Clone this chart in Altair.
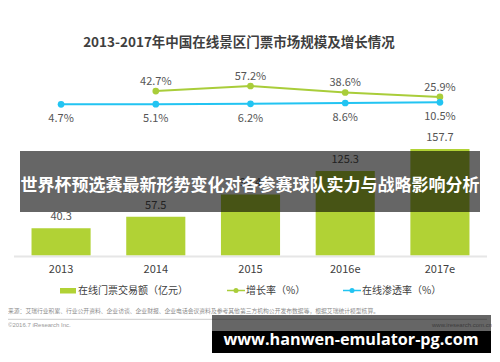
import altair as alt
import pandas as pd

years = ["2013", "2014", "2015", "2016e", "2017e"]
amount = [40.3, 57.5, 90.4, 125.3, 157.7]
growth = [None, 42.7, 57.2, 38.6, 25.9]
penetration = [4.7, 5.1, 6.2, 8.6, 10.5]

title_text = "2013-2017年中国在线景区门票市场规模及增长情况"
legend_labels = ["在线门票交易额（亿元）", "增长率（%）", "在线渗透率（%）"]
source_text = ("来源：艾瑞行业积累、行业公开资料、企业访谈、企业财报、企业电话会议资料及参考其他第三方"
               "机构公开发布数据等，根据艾瑞统计模型核算。")
copyright_text = "©2016.7 iResearch Inc."
site_text = "www.iresearch.com.cn"
banner_text = "世界杯预选赛最新形势变化对各参赛球队实力与战略影响分析"
url_text = "www.hanwen-emulator-pg.com"

BAR = "#b1d235"
GREEN = "#a9cd3a"
BLUE = "#22c4f2"
TXT = "#404040"
LBL = "#555555"
FONT = "Noto Sans CJK SC"

df = pd.DataFrame({"year": years, "amount": amount, "growth": growth, "pen": penetration})
df["amount_label"] = df["amount"].map(lambda v: f"{v:.1f}")
df["growth_label"] = df["growth"].map(lambda v: "" if pd.isna(v) else f"{v:.1f}%")
df["pen_label"] = df["pen"].map(lambda v: f"{v:.1f}%")

xs = alt.Scale(domain=years, range=[6, 479], paddingInner=0.376, paddingOuter=0.185)
ybar = alt.Scale(domain=[0, 160], range=[247.5, 139.5])
yrate = alt.Scale(domain=[0, 60], range=[98, 77])

X = alt.X("year:N", scale=xs, axis=None, sort=years)
base = alt.Chart(df)

bars = base.mark_bar(color=BAR).encode(x=X, y=alt.Y("amount:Q", scale=ybar, axis=None))
bar_lbl = base.mark_text(dy=-11, fontSize=11, color=LBL, font=FONT).encode(
    x=X, y=alt.Y("amount:Q", scale=ybar, axis=None), text="amount_label:N")
xlbl = base.mark_text(fontSize=11, color=TXT, font=FONT).encode(
    x=X, y=alt.value(262), text="year:N")

one = alt.Chart(pd.DataFrame({"a": [0]}))
axis_line = one.mark_rule(color="#e6e6e6", strokeWidth=2).encode(
    x=alt.value(6), x2=alt.value(479), y=alt.value(248.5))

gdf = base.transform_filter("isValid(datum.growth)")
g_line = gdf.mark_line(color=GREEN, strokeWidth=2).encode(
    x=X, y=alt.Y("growth:Q", scale=yrate, axis=None))
g_pt = gdf.mark_point(color=GREEN, filled=True, size=45, opacity=1).encode(
    x=X, y=alt.Y("growth:Q", scale=yrate, axis=None))
g_lbl = gdf.mark_text(dy=-9, fontSize=11, color=LBL, font=FONT).encode(
    x=X, y=alt.Y("growth:Q", scale=yrate, axis=None), text="growth_label:N")

p_line = base.mark_line(color=BLUE, strokeWidth=2).encode(
    x=X, y=alt.Y("pen:Q", scale=yrate, axis=None))
p_pt = base.mark_point(color=BLUE, filled=True, size=45, opacity=1).encode(
    x=X, y=alt.Y("pen:Q", scale=yrate, axis=None))
p_lbl = base.mark_text(dy=15, fontSize=11, color=LBL, font=FONT).encode(
    x=X, y=alt.Y("pen:Q", scale=yrate, axis=None), text="pen_label:N")

title = one.mark_text(fontSize=13.5, fontWeight="bold", color="#3f3f3f", font=FONT).encode(
    x=alt.value(231), y=alt.value(34.5), text=alt.value(title_text))

# legend
leg = [
    one.mark_rect(color=BAR).encode(x=alt.value(52), x2=alt.value(68), y=alt.value(280), y2=alt.value(285.5)),
    one.mark_text(align="left", fontSize=10, color=TXT, font=FONT).encode(
        x=alt.value(70), y=alt.value(282.5), text=alt.value(legend_labels[0])),
    one.mark_rule(color=GREEN, strokeWidth=1.5).encode(x=alt.value(219), x2=alt.value(237), y=alt.value(282.5)),
    one.mark_point(color=GREEN, filled=True, size=25, opacity=1).encode(x=alt.value(228), y=alt.value(282.5)),
    one.mark_text(align="left", fontSize=10, color=TXT, font=FONT).encode(
        x=alt.value(238), y=alt.value(282.5), text=alt.value(legend_labels[1])),
    one.mark_rule(color=BLUE, strokeWidth=1.5).encode(x=alt.value(335), x2=alt.value(353), y=alt.value(282.5)),
    one.mark_point(color=BLUE, filled=True, size=25, opacity=1).encode(x=alt.value(344), y=alt.value(282.5)),
    one.mark_text(align="left", fontSize=10, color=TXT, font=FONT).encode(
        x=alt.value(354), y=alt.value(282.5), text=alt.value(legend_labels[2])),
]

footer = [
    one.mark_text(align="left", fontSize=5.8, color="#8c8c8c", font=FONT).encode(
        x=alt.value(0), y=alt.value(303), text=alt.value(source_text)),
    one.mark_rule(color="#cccccc", strokeWidth=1).encode(x=alt.value(0), x2=alt.value(479), y=alt.value(311.3)),
    one.mark_text(align="left", fontSize=6, color="#999999", font="Liberation Sans").encode(
        x=alt.value(0), y=alt.value(317), text=alt.value(copyright_text)),
    one.mark_text(align="right", fontSize=6, color="#999999", font="Liberation Sans").encode(
        x=alt.value(484), y=alt.value(317), text=alt.value(site_text)),
]

overlay = [
    one.mark_rect(color="black", opacity=0.6).encode(
        x=alt.value(12), x2=alt.value(472), y=alt.value(143), y2=alt.value(204)),
    one.mark_text(fontSize=17, fontWeight="bold", color="white", font=FONT).encode(
        x=alt.value(242), y=alt.value(177.5), text=alt.value(banner_text)),
    one.mark_rect(color="black", opacity=0.6).encode(
        x=alt.value(204), x2=alt.value(483), y=alt.value(307), y2=alt.value(323)),
    one.mark_rect(color="black", opacity=1).encode(
        x=alt.value(204), x2=alt.value(483), y=alt.value(323), y2=alt.value(345)),
    one.mark_text(fontSize=16.2, fontWeight="bold", color="white", font="Open Sans").encode(
        x=alt.value(343), y=alt.value(332), text=alt.value(url_text)),
]

chart = alt.layer(
    bars, axis_line, bar_lbl, xlbl, g_line, g_pt, g_lbl, p_line, p_pt, p_lbl, title,
    *leg, *footer, *overlay
).resolve_scale(y="independent").properties(
    width=484, height=346, autosize="none", padding=0, background="white"
).configure_view(stroke=None)

chart.save("out.html", embed_options={"renderer": "svg", "actions": False})
